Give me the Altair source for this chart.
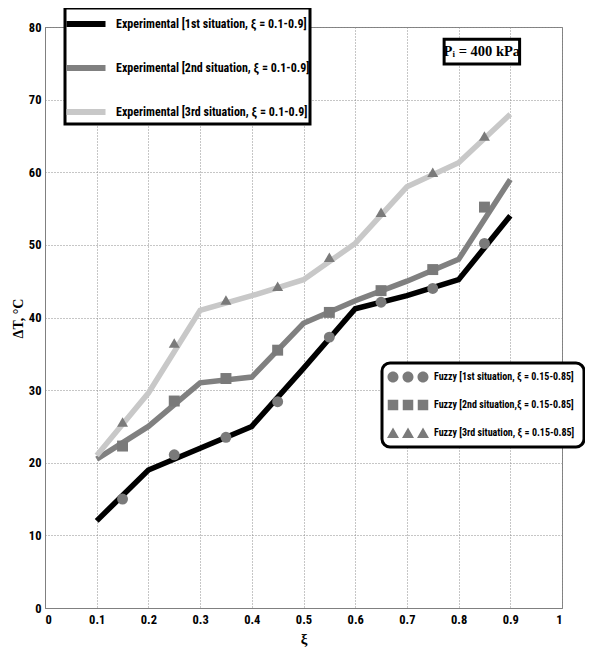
import altair as alt
import pandas as pd

FONT = "Roboto Condensed, Liberation Sans, sans-serif"
SERIF = "Liberation Serif, serif"

xi_exp = [0.1, 0.2, 0.3, 0.4, 0.5, 0.6, 0.7, 0.8, 0.9]
exp1 = [12, 19, 22, 25, 33, 41.2, 43, 45.2, 54]
exp2 = [20.5, 25, 31, 31.8, 39.2, 42.3, 45, 48, 59]
exp3 = [21, 29.6, 41, 43, 45.2, 50.2, 58, 61.3, 68]
exp_names = ["Experimental [1st situation, ξ = 0.1-0.9]",
             "Experimental [2nd situation, ξ = 0.1-0.9]",
             "Experimental [3rd situation, ξ = 0.1-0.9]"]
exp_colors = ["#000000", "#808080", "#c8c8c8"]

xi_fz = [0.15, 0.25, 0.35, 0.45, 0.55, 0.65, 0.75, 0.85]
fz1 = [15, 21.1, 23.5, 28.4, 37.3, 42.1, 44, 50.2]
fz2 = [22.3, 28.5, 31.6, 35.5, 40.7, 43.7, 46.6, 55.2]
fz3 = [25.6, 36.5, 42.4, 44.3, 48.3, 54.5, 60, 65]
fz_names = ["Fuzzy [1st situation, ξ = 0.15-0.85]",
            "Fuzzy [2nd situation,ξ = 0.15-0.85]",
            "Fuzzy [3rd situation, ξ = 0.15-0.85]"]
fz_shapes = ["circle", "square", "triangle-up"]

# legend glyphs: three symbols side by side
def circles():
    s = ""
    for c in (-3, 0, 3):
        r = 1.1
        s += f"M{c - r},0A{r},{r} 0 1,0 {c + r},0A{r},{r} 0 1,0 {c - r},0Z"
    return s

def squares():
    s = ""
    for c in (-3, 0, 3):
        h = 1.05
        s += f"M{c - h},{-h}H{c + h}V{h}H{c - h}Z"
    return s

def triangles():
    s = ""
    for c in (-3, 0, 3):
        s += f"M{c},-1.1L{c + 1.2},1.0L{c - 1.2},1.0Z"
    return s

legend_paths = [circles(), squares(), triangles()]
stroke_glyph = "M-1.5,0H1.5"

x_ticks = [0, 0.1, 0.2, 0.3, 0.4, 0.5, 0.6, 0.7, 0.8, 0.9, 1]
y_ticks = [0, 10, 20, 30, 40, 50, 60, 70, 80]

pi_box_x = [0.772, 0.918]
pi_box_y = [74.9, 78.3]
pi_text_xy = [0.845, 76.6]
pi_label = "Pᵢ = 400 kPa"

exp_df = pd.DataFrame({
    "xi": xi_exp * 3,
    "dT": exp1 + exp2 + exp3,
    "series": [exp_names[0]] * 9 + [exp_names[1]] * 9 + [exp_names[2]] * 9,
})
fz_df = pd.DataFrame({
    "xi": xi_fz * 3,
    "dT": fz1 + fz2 + fz3,
    "fuzzy": [fz_names[0]] * 8 + [fz_names[1]] * 8 + [fz_names[2]] * 8,
})
pi_box_df = pd.DataFrame({"x": [pi_box_x[0]], "x2": [pi_box_x[1]],
                          "y": [pi_box_y[0]], "y2": [pi_box_y[1]]})
pi_text_df = pd.DataFrame({"x": [pi_text_xy[0]], "y": [pi_text_xy[1]], "t": [pi_label]})

xscale = alt.Scale(domain=[0, 1], nice=False)
yscale = alt.Scale(domain=[0, 80], nice=False)

xenc = alt.X("xi:Q", scale=xscale,
             axis=alt.Axis(values=x_ticks, format=".1~f", title="ξ", titleFontSize=15,
                           titleFont=SERIF,
                           labelPadding=5, titleY=23, titleBaseline="top"))
yenc = alt.Y("dT:Q", scale=yscale,
             axis=alt.Axis(values=y_ticks, title="ΔT, °C", titleFontSize=14,
                           titleFont=SERIF,
                           labelPadding=4, titleX=-20, titleY=291))

lines = alt.Chart(exp_df).mark_line(strokeWidth=5.5).encode(
    x=xenc, y=yenc,
    color=alt.Color("series:N",
                    scale=alt.Scale(domain=exp_names, range=exp_colors),
                    legend=alt.Legend(title=None, orient="none", legendX=20, legendY=-19,
                                      symbolType=stroke_glyph, symbolSize=676,
                                      symbolStrokeWidth=6, symbolOffset=5,
                                      labelFont=FONT,
                                      labelFontSize=12, labelFontWeight="bold",
                                      labelColor="black", labelLimit=400,
                                      labelOffset=14, strokeColor="black",
                                      fillColor="white", padding=0, rowPadding=16)),
)

points = alt.Chart(fz_df).mark_point(filled=True, size=120, color="#7a7a7a", opacity=1).encode(
    x="xi:Q", y="dT:Q",
    shape=alt.Shape("fuzzy:N", scale=alt.Scale(domain=fz_names, range=fz_shapes), legend=None),
)

legend_layer = alt.Chart(fz_df).mark_point(filled=True, size=100, color="#7a7a7a", opacity=0).encode(
    x="xi:Q", y="dT:Q",
    shape=alt.Shape("fuzzy:N", scale=alt.Scale(domain=fz_names, range=legend_paths),
                    legend=alt.Legend(title=None, orient="none", legendX=337, legendY=336,
                                      symbolSize=100, symbolOpacity=1,
                                      symbolFillColor="#7a7a7a", symbolStrokeWidth=0,
                                      symbolOffset=12, labelOffset=21,
                                      labelFont=FONT, labelFontSize=10,
                                      labelFontWeight="bold", labelColor="black",
                                      labelLimit=400, strokeColor="black",
                                      fillColor="white", cornerRadius=8,
                                      padding=9, rowPadding=16)),
)

pi_box = alt.Chart(pi_box_df).mark_rect(fill="white", stroke="black", strokeWidth=3).encode(
    x="x:Q", x2="x2:Q", y="y:Q", y2="y2:Q")
pi_text = alt.Chart(pi_text_df).mark_text(font=SERIF, fontSize=14.5,
                                          fontWeight="bold", color="black").encode(
    x="x:Q", y="y:Q", text="t:N")

chart = alt.layer(lines, points, legend_layer, pi_box, pi_text).resolve_scale(
    shape="independent").resolve_legend(shape="independent").properties(
    width=517, height=581,
    autosize=alt.AutoSizeParams(type="none"),
    padding={"left": 37, "top": 19, "right": 23, "bottom": 41},
).configure_view(stroke="#808080", strokeWidth=1).configure_axis(
    grid=True, gridColor="#8c8c8c", gridDash=[1, 2], gridWidth=1,
    labelFont=FONT, labelFontSize=12.5, labelFontWeight="bold", labelColor="black",
    titleFontWeight="bold", titleColor="black",
    domainColor="#808080", tickSize=0,
).configure_legend(strokeWidth=3)

chart.save("out.html", embed_options={"renderer": "svg", "actions": False})
